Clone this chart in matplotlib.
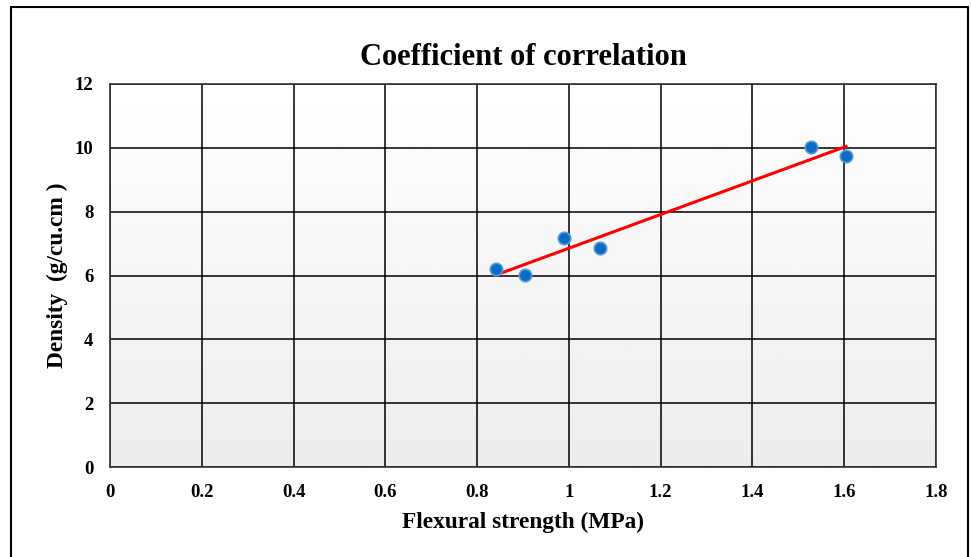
import numpy as np
import matplotlib.pyplot as plt
from matplotlib.patches import Rectangle

# data
flexural = [0.841, 0.904, 0.989, 1.068, 1.528, 1.604]
density = [6.21, 6.02, 7.18, 6.87, 10.03, 9.75]
x_ticks = [0, 0.2, 0.4, 0.6, 0.8, 1, 1.2, 1.4, 1.6, 1.8]
x_tick_labels = ['0', '0.2', '0.4', '0.6', '0.8', '1', '1.2', '1.4', '1.6', '1.8']
y_ticks = [0, 2, 4, 6, 8, 10, 12]

plt.rcParams['font.family'] = ['Liberation Serif', 'DejaVu Serif']
plt.rcParams['font.weight'] = 'bold'

fig = plt.figure(figsize=(9.71, 5.57), dpi=100)
ax = fig.add_axes([110 / 971, 1 - 467 / 557, 826 / 971, 383 / 557])

# gradient background of plot area
grad = np.linspace(1.0, 0.925, 256).reshape(-1, 1)
ax.imshow(grad, extent=[0, 1, 0, 1], transform=ax.transAxes, cmap='gray',
          vmin=0, vmax=1, aspect='auto', zorder=0)

ax.set_xlim(0, 1.8)
ax.set_ylim(0, 12)
ax.set_xticks(x_ticks)
ax.set_xticklabels(x_tick_labels)
ax.set_yticks(y_ticks)
ax.tick_params(length=0, labelsize=13.5, pad=12)
ax.grid(True, color='black', linewidth=1.1, zorder=1)
ax.set_axisbelow(True)
for s in ax.spines.values():
    s.set_color('#333333')
    s.set_linewidth(1.2)

# linear fit trend line
slope, icpt = np.polyfit(flexural, density, 1)
fx = np.array([min(flexural), max(flexural)])
ax.plot(fx, slope * fx + icpt, color='red', linewidth=2.2, zorder=3)

ax.scatter(flexural, density, s=80, color='#0a6cc4', edgecolors='#5b9ad8',
           linewidths=1.2, zorder=4)

ax.set_title('Coefficient of correlation', fontsize=22, fontweight='bold', pad=14)
ax.set_xlabel('Flexural strength (MPa)', fontsize=16.8, fontweight='bold', labelpad=8)
ax.set_ylabel('Density  (g/cu.cm )', fontsize=16.8, fontweight='bold', labelpad=5)

# outer chart border
fig.patches.append(Rectangle((11 / 971, -0.05), 957 / 971, 1 - 7 / 557 + 0.05,
                             transform=fig.transFigure, fill=False,
                             edgecolor='black', linewidth=1.5))

fig.savefig('out.png', dpi=100)
